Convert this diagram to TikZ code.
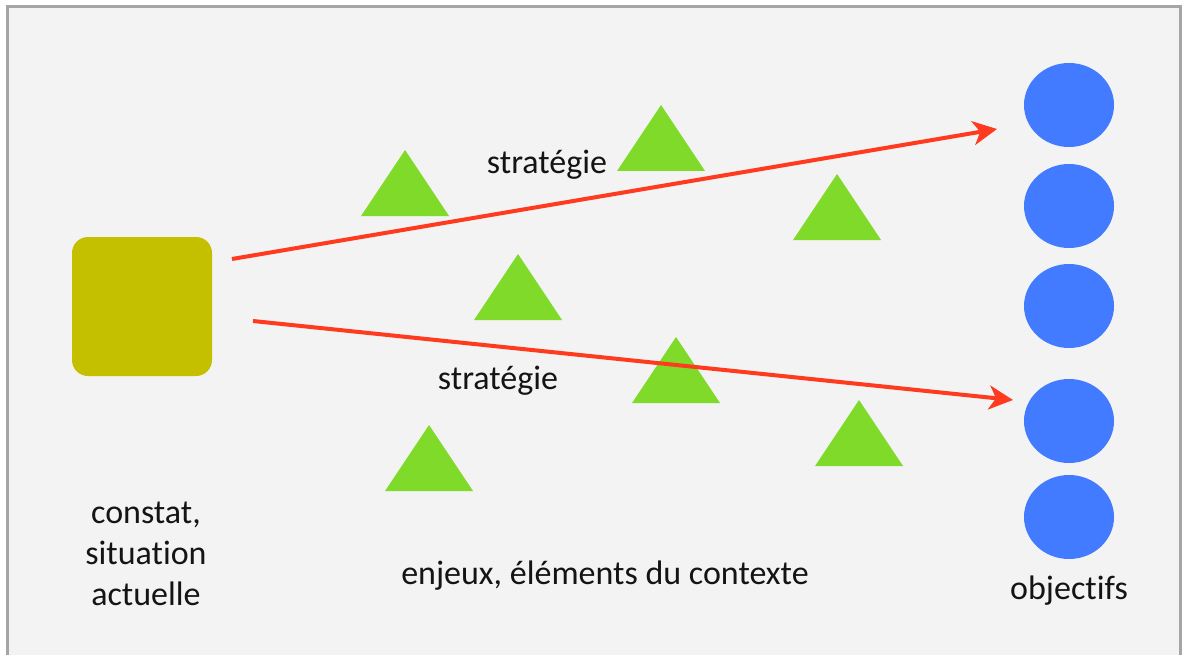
\documentclass[tikz,border=0pt]{standalone}
\usepackage{fontspec}
\setmainfont[Ligatures={NoCommon,NoRare,NoDiscretionary},Contextuals=NoAlternate]{Carlito}
\usetikzlibrary{arrows.meta,shapes.geometric}
\definecolor{bgpaper}{RGB}{243,243,243}
\definecolor{frame}{RGB}{165,165,165}
\definecolor{olive}{RGB}{196,192,0}
\definecolor{objblue}{RGB}{66,123,255}
\definecolor{trigreen}{RGB}{128,218,42}
\definecolor{arrowred}{RGB}{255,59,31}
\definecolor{ink}{RGB}{20,20,20}
\tikzset{
  lbl/.style={text=ink,font=\fontsize{34}{41}\selectfont,align=center,inner sep=0pt},
  objdot/.style={ellipse,fill=objblue,minimum width=90pt,minimum height=84pt,inner sep=0pt},
  tri/.style={fill=trigreen},
  strat/.style={draw=arrowred,line width=4pt,-{Stealth[length=24pt,width=24pt,inset=7pt]}},
}
\begin{document}
\begin{tikzpicture}[x=1pt,y=-1pt]
\useasboundingbox (0,0) rectangle (1182,655);
\fill[white] (0,0) rectangle (1182,655);
\fill[bgpaper] (8,8) rectangle (1179,655);
\draw[frame,line width=3pt] (7,655) -- (7,7) -- (1180,7) -- (1180,655);
% situation
\node[fill=olive,rounded corners=16pt,minimum width=140pt,minimum height=139pt,inner sep=0pt] (sq) at (142,306.5) {};
% objectives
\node[objdot] (o1) at (1069,105) {};
\node[objdot] (o2) at (1069,206) {};
\node[objdot] (o3) at (1069,306) {};
\node[objdot] (o4) at (1069,421) {};
\node[objdot] (o5) at (1069,517) {};
% triangles
\foreach \ax/\ay in {405/150,661/105,837/174,518/254,676/337,429/425,859/400}
  \fill[tri] (\ax,\ay) -- ++(-44,66) -- ++(88,0) -- cycle;
% arrows
\coordinate (s1) at (232,259);
\coordinate (t1) at (997,129);
\coordinate (s2) at (253,321);
\coordinate (t2) at (1013,400);
\draw[strat] (s1) -- (t1);
\draw[strat] (s2) -- (t2);
% labels
\node[lbl] (l1) at (547,165) {stratégie};
\node[lbl] (l2) at (498,381) {stratégie};
\node[lbl] (lc) at (146,554) {constat,\\situation\\actuelle};
\node[lbl] (le) at (605,576) {enjeux, éléments du contexte};
\node[lbl] (lo) at (1069,591) {objectifs};
\end{tikzpicture}
\end{document}
